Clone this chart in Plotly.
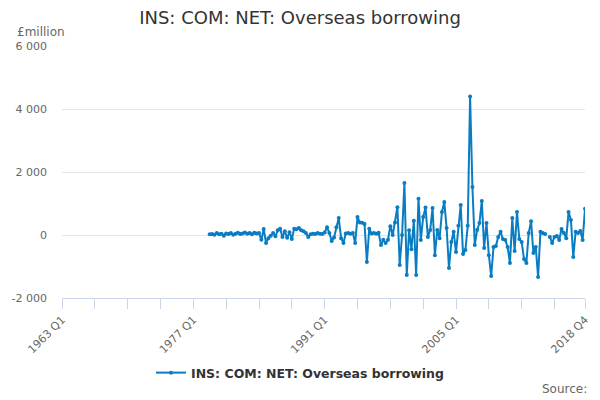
import plotly.graph_objects as go

# quarterly categories 1963 Q1 .. 2018 Q4
quarters = [f"{y} Q{q}" for y in range(1963, 2019) for q in range(1, 5)]

# series starts 1978 Q4 (None = missing quarter)
first_quarter = "1978 Q4"
borrowing = [
    20, 30, 10, 60, 20, 40, -20, 50, 30, 60, 10, 40, 70, 30, 50, 80, 40, 60, 20, 70, 50, 60,
    -150, 190, -250, -100, -20, 60, -40, 150, 200, -60, 120, -90, 90, -130, 200, 180, 220, 150,
    120, 60, -60, 20, 40, 30, 60, 40, 30, 80, 250, 60, -190, -80, 250, 540, -100, -250, 50, 60,
    40, 60, -250, 570, 400, 390, 350, -860, 200, 50, 60, 40, 70, -320, -150, -250, -150, 280,
    0, 400, 880, -950, 0, 1650, -1270, 150, -450, 450, -1270, 1150, -160, 570, 870, -60, 160,
    860, -640, 160, -100, 730, 1050, 220, -1050, -220, 100, -540, 290, 950, -600, -480, 290,
    4400, 1520, -320, 160, 380, 1080, -410, 380, -640, -1300, -380, -350, -60, 100, -130, -160,
    -380, -890, 540, -510, 730, -130, -220, -760, -890, 60, 440, -570, -380, -1330, 100, 60, 30,
    None, -60, -250, -60, -30, -160, 190, 60, -100, 730, 480, -700, 100, 60, 130, -160, 830,
]

start = quarters.index(first_quarter)
xs = list(range(start, start + len(borrowing)))

y_ticks = [-2000, 0, 2000, 4000, 6000]
y_text = ["-2 000", "0", "2 000", "4 000", "6 000"]

x_ticks = list(range(0, 211, 14)) + [len(quarters) - 1]
labelled = ["1963 Q1", "1977 Q1", "1991 Q1", "2005 Q1", "2018 Q4"]
x_text = [quarters[i] if quarters[i] in labelled else "" for i in x_ticks]

blue = "#0a7dc2"
grey = "#666666"

fig = go.Figure()
fig.add_trace(go.Scatter(
    x=xs, y=borrowing, mode="lines+markers", name="INS: COM: NET: Overseas borrowing",
    line=dict(color=blue, width=2), marker=dict(color=blue, size=4),
    connectgaps=False,
))

fig.update_layout(
    width=600, height=400,
    paper_bgcolor="white", plot_bgcolor="white",
    font=dict(family="DejaVu Sans", color=grey, size=11),
    margin=dict(l=62, r=15, t=46, b=102, autoexpand=False),
    title=dict(text="INS: COM: NET: Overseas borrowing", xref="container", x=0.5,
               xanchor="center", y=0.955, yanchor="middle",
               font=dict(size=18, color="#333333")),
    showlegend=True,
    legend=dict(orientation="h", xref="container", x=0.5, xanchor="center",
                yref="container", y=0.0675, yanchor="middle", itemwidth=30,
                font=dict(size=12.5, color="#333333", weight="bold")),
)

fig.update_xaxes(
    range=[0, len(quarters) - 1], tickvals=x_ticks, ticktext=x_text, tickangle=-45,
    showgrid=False, zeroline=False, showline=True, linecolor="#ccd6eb", linewidth=1,
    ticks="outside", ticklen=10, tickcolor="#ccd6eb", tickfont=dict(size=11, color=grey),
    automargin=False,
)
fig.update_yaxes(
    range=[-2000, 6000], tickvals=y_ticks, ticktext=y_text,
    showgrid=True, gridcolor="#e6e6e6", zeroline=False, showline=False,
    ticks="", ticklabelstandoff=14, tickfont=dict(size=11, color=grey),
    automargin=False,
)

fig.add_annotation(text="£million", xref="paper", yref="paper", x=-0.09, y=1.056,
                   xanchor="left", yanchor="middle", showarrow=False,
                   font=dict(size=12, color=grey))
fig.add_annotation(text="Source:", xref="paper", yref="paper", x=1.008, y=-0.361,
                   xanchor="right", yanchor="middle", showarrow=False,
                   font=dict(size=12, color=grey))

# drop the browser's default body margin so the 600x400 figure fills the window
fig.write_html("out.html", config={"displayModeBar": False},
               post_script="document.body.style.margin='0';")
